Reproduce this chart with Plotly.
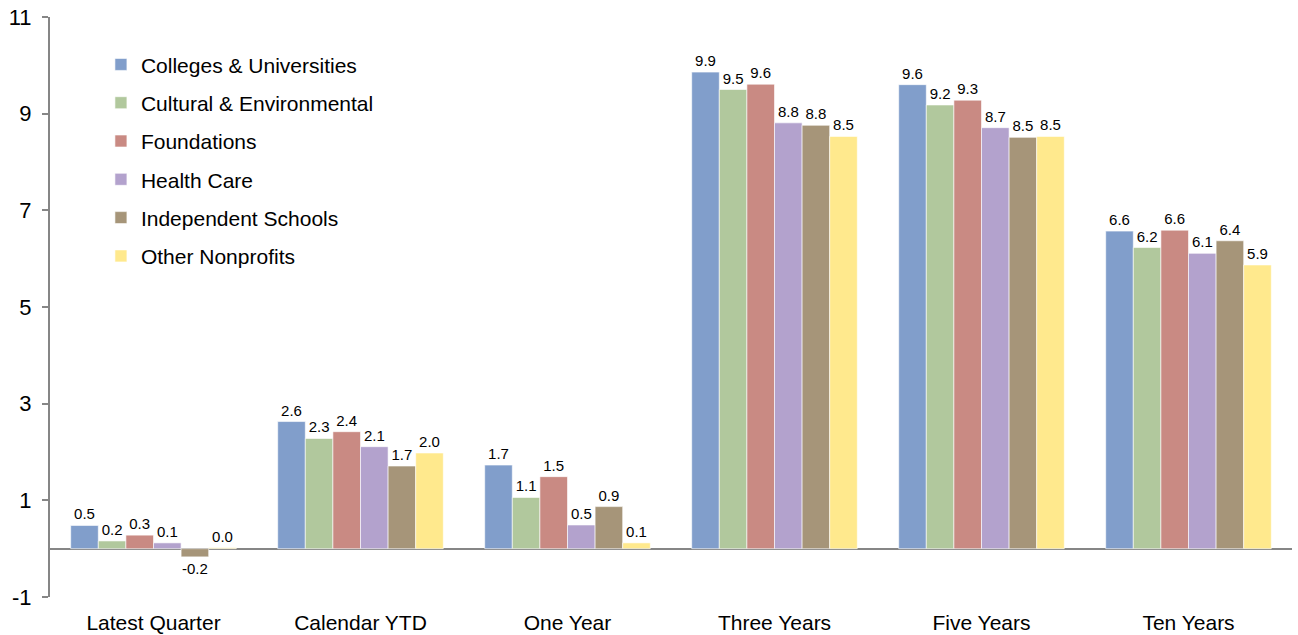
import plotly.graph_objects as go

categories = ["Latest Quarter", "Calendar YTD", "One Year", "Three Years", "Five Years", "Ten Years"]
series_names = ["Colleges & Universities", "Cultural & Environmental", "Foundations",
                "Health Care", "Independent Schools", "Other Nonprofits"]
colleges = [0.48, 2.63, 1.73, 9.86, 9.60, 6.57]
cultural = [0.16, 2.28, 1.06, 9.50, 9.18, 6.23]
foundations = [0.28, 2.42, 1.49, 9.61, 9.28, 6.59]
health = [0.12, 2.11, 0.49, 8.81, 8.71, 6.11]
schools = [-0.17, 1.71, 0.87, 8.76, 8.51, 6.37]
other = [0.02, 1.98, 0.12, 8.53, 8.53, 5.87]
series_values = [colleges, cultural, foundations, health, schools, other]
colors = ["#819ECB", "#B1C89D", "#C98A83", "#B3A2CD", "#A69579", "#FFE98D"]
y_ticks = [-1, 1, 3, 5, 7, 9, 11]
y_tick_labels = ["-1", "1", "3", "5", "7", "9", "11"]

font_family = "Liberation Sans, Arial, sans-serif"

fig = go.Figure()
for i, (name, vals) in enumerate(zip(series_names, series_values)):
    fig.add_trace(go.Bar(
        x=categories, y=vals, name=name,
        marker=dict(color=colors[i], line=dict(color="rgba(255,255,255,0.6)", width=1)),
        text=[f"{v:.1f}" for v in vals], textposition="outside", cliponaxis=False,
        textfont=dict(size=15, color="#000000", family=font_family),
        legendgroup=f"g{i}",
    ))

fig.update_layout(
    width=1298, height=635,
    margin=dict(l=50, r=6, t=17, b=38, autoexpand=False),
    paper_bgcolor="white", plot_bgcolor="white",
    barmode="group", bargap=0.2, bargroupgap=0,
    font=dict(family=font_family, color="#000000"),
    showlegend=True,
    legend=dict(x=0.041, y=0.953, xanchor="left", yanchor="top",
                bgcolor="rgba(0,0,0,0)", font=dict(size=21),
                traceorder="grouped", tracegroupgap=8,
                itemwidth=30),
    uniformtext=dict(mode=False),
)
fig.update_xaxes(showline=False, ticks="", showgrid=False, automargin=False,
                 tickfont=dict(size=21), ticklabelstandoff=11)
fig.update_yaxes(range=[-1, 11], tickvals=y_ticks, ticktext=y_tick_labels,
                 showgrid=False, automargin=False,
                 showline=True, linecolor="#868686", linewidth=2,
                 ticks="outside", ticklen=6, tickcolor="#868686", tickwidth=2,
                 zeroline=True, zerolinecolor="#868686", zerolinewidth=2,
                 tickfont=dict(size=22), ticklabelstandoff=6)

fig.write_html("out.html", config={"displayModeBar": False},
               post_script="document.body.style.margin='0';document.body.style.overflow='hidden';")
